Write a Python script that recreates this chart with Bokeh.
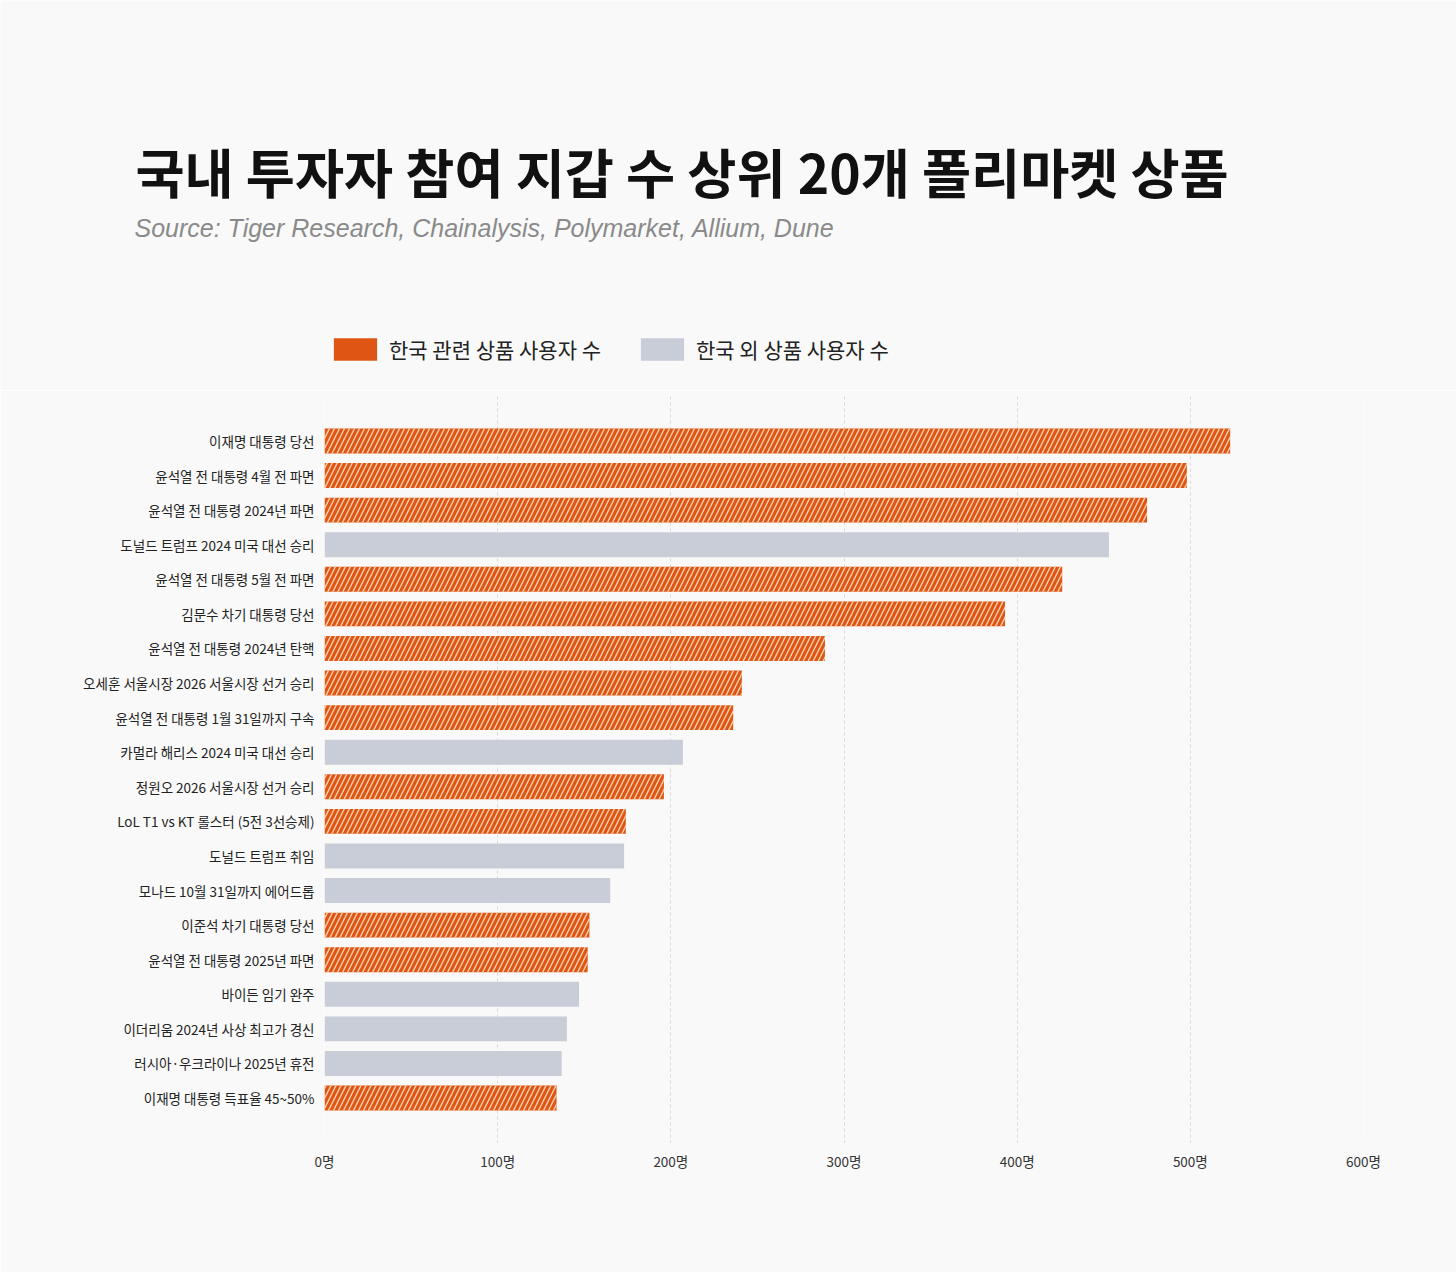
from bokeh.plotting import figure
from bokeh.layouts import column
from bokeh.models import (FactorRange, Range1d, FixedTicker, PrintfTickFormatter,
                          Legend, LegendItem, ColumnDataSource)
from bokeh.core.properties import value
from bokeh.embed import file_html
from bokeh.resources import INLINE

# ---- data ----
categories = [
    "이재명 대통령 당선",
    "윤석열 전 대통령 4월 전 파면",
    "윤석열 전 대통령 2024년 파면",
    "도널드 트럼프 2024 미국 대선 승리",
    "윤석열 전 대통령 5월 전 파면",
    "김문수 차기 대통령 당선",
    "윤석열 전 대통령 2024년 탄핵",
    "오세훈 서울시장 2026 서울시장 선거 승리",
    "윤석열 전 대통령 1월 31일까지 구속",
    "카멀라 해리스 2024 미국 대선 승리",
    "정원오 2026 서울시장 선거 승리",
    "LoL T1 vs KT 롤스터 (5전 3선승제)",
    "도널드 트럼프 취임",
    "모나드 10월 31일까지 에어드롭",
    "이준석 차기 대통령 당선",
    "윤석열 전 대통령 2025년 파면",
    "바이든 임기 완주",
    "이더리움 2024년 사상 최고가 경신",
    "러시아·우크라이나 2025년 휴전",
    "이재명 대통령 득표율 45~50%",
]
users = [523, 498, 475, 453, 426, 393, 289, 241, 236, 207,
         196, 174, 173, 165, 153, 152, 147, 140, 137, 134]
korea_related = [True, True, True, False, True, True, True, True, True, False,
                 True, True, False, False, True, True, False, False, False, True]
x_ticks = [0, 100, 200, 300, 400, 500, 600]
title_text = "국내 투자자 참여 지갑 수 상위 20개 폴리마켓 상품"
subtitle_text = "Source: Tiger Research, Chainalysis, Polymarket, Allium, Dune"
legend_labels = ["한국 관련 상품 사용자 수", "한국 외 상품 사용자 수"]

ORANGE = "#df5614"
GREY = "#c8cdd8"
BG = "#f9f9f9"
KFONT = "Noto Sans CJK KR"
NAN = float("nan")

W = 1456
HEAD_H = 390

# ---------------- header (title, subtitle, legend) ----------------
head = figure(width=W, height=HEAD_H, output_backend="svg", toolbar_location=None,
              x_range=Range1d(0, W), y_range=Range1d(HEAD_H, 0),
              min_border=0, x_axis_type=None, y_axis_type=None)
head.frame_align = False
head.background_fill_color = BG
head.border_fill_color = BG
head.outline_line_color = None
head.grid.visible = False

head.text(x=[135], y=[170], text=[title_text], text_font=value(KFONT),
          text_font_size="53.4px", text_font_style="bold", text_color="#111111",
          text_baseline="middle", text_align="left")
head.text(x=[134], y=[227], text=[subtitle_text], text_font=value("Liberation Sans"),
          text_font_size="25px", text_font_style="italic", text_color="#8a8a8a",
          text_baseline="middle", text_align="left")

# legend-only renderers (no visible marks)
r1 = head.rect(x=[NAN], y=[NAN], width=1, height=1, fill_color=ORANGE, line_color=None)
r2 = head.rect(x=[NAN], y=[NAN], width=1, height=1, fill_color=GREY, line_color=None)
legend = Legend(items=[LegendItem(label=legend_labels[0], renderers=[r1]),
                       LegendItem(label=legend_labels[1], renderers=[r2])],
                orientation="horizontal", location=(328, 26),
                glyph_width=54, glyph_height=28, label_standoff=7, spacing=34,
                padding=0, margin=0, background_fill_alpha=0, border_line_color=None,
                label_text_font=KFONT, label_text_font_size="21px",
                label_text_color="#222222", label_height=28,
                label_text_baseline="middle")
head.add_layout(legend, "center")

# ---------------- main bar chart ----------------
kr_src = ColumnDataSource(dict(
    cat=[c for c, k in zip(categories, korea_related) if k],
    val=[v for v, k in zip(users, korea_related) if k]))
ot_src = ColumnDataSource(dict(
    cat=[c for c, k in zip(categories, korea_related) if not k],
    val=[v for v, k in zip(users, korea_related) if not k]))

p = figure(width=W, height=1272 - HEAD_H, output_backend="svg", toolbar_location=None,
           y_range=FactorRange(factors=categories[::-1], range_padding=0.815,
                               range_padding_units="absolute"),
           x_range=Range1d(0, 600),
           min_border_left=324, min_border_right=93,
           min_border_top=5, min_border_bottom=129)
p.frame_align = False
p.background_fill_color = BG
p.border_fill_color = BG
p.outline_line_color = None

p.hbar(y="cat", right="val", left=0, height=0.72, source=kr_src,
       fill_color=ORANGE, line_color=None,
       hatch_pattern="/", hatch_color="#f9cfae", hatch_scale=10, hatch_weight=1.4)
p.hbar(y="cat", right="val", left=0, height=0.72, source=ot_src,
       fill_color=GREY, line_color=None)

p.xaxis.ticker = FixedTicker(ticks=x_ticks)
p.xaxis.formatter = PrintfTickFormatter(format="%d명")
p.xaxis.axis_line_color = None
p.xaxis.major_tick_line_color = None
p.xaxis.minor_tick_line_color = None
p.xaxis.major_tick_out = 0
p.xaxis.major_tick_in = 0
p.xaxis.major_label_standoff = 7
p.xaxis.major_label_text_font = KFONT
p.xaxis.major_label_text_font_size = "13.5px"
p.xaxis.major_label_text_color = "#333333"

p.yaxis.axis_line_color = None
p.yaxis.major_tick_line_color = None
p.yaxis.minor_tick_line_color = None
p.yaxis.major_tick_out = 0
p.yaxis.major_tick_in = 0
p.yaxis.major_label_standoff = 10
p.yaxis.major_label_text_font = KFONT
p.yaxis.major_label_text_font_size = "13.5px"
p.yaxis.major_label_text_color = "#222222"

p.ygrid.grid_line_color = None
p.xgrid.grid_line_color = "#d8d8d8"
p.xgrid.grid_line_dash = "3 3"
p.xgrid.grid_line_width = 1

layout = column(head, p, spacing=0)
open("out.html", "w").write(file_html(layout, INLINE))
